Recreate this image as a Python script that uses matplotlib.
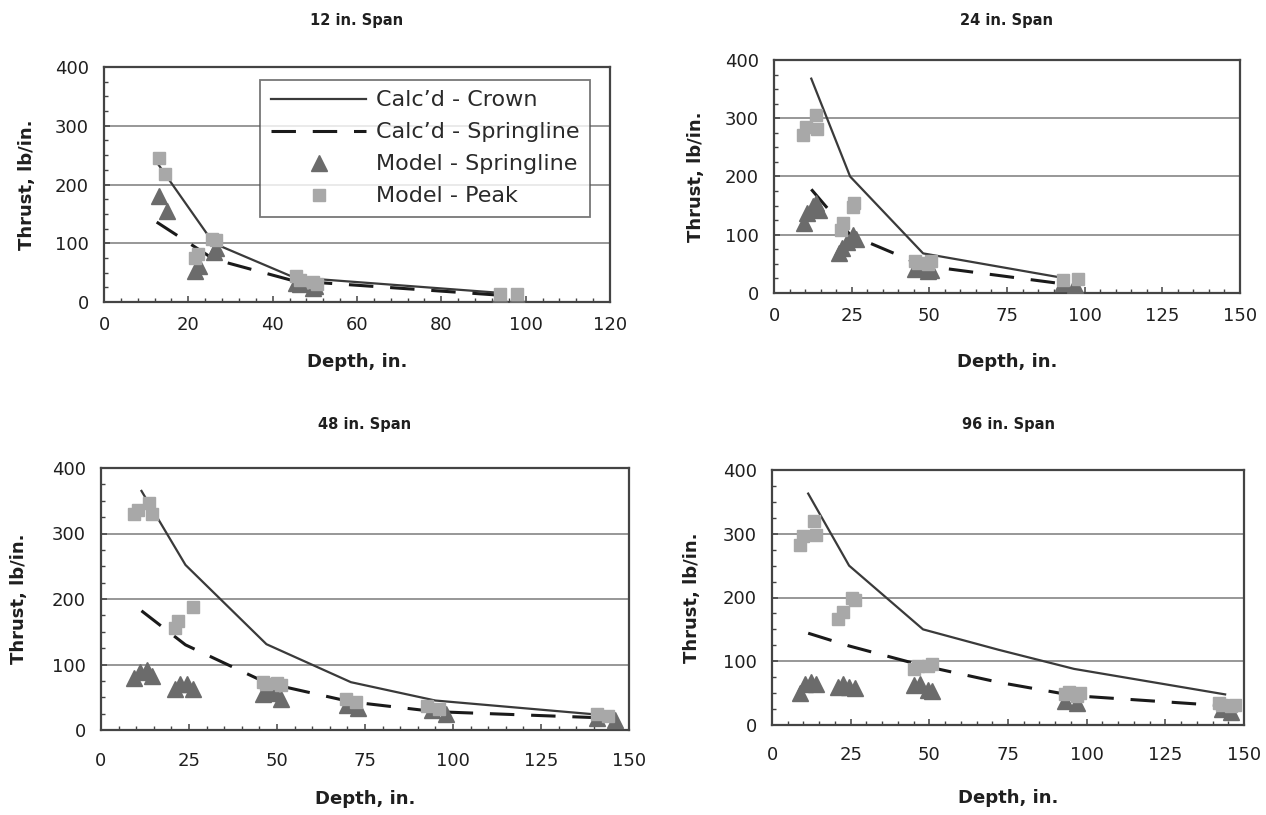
import matplotlib
matplotlib.use("Agg")
import matplotlib.pyplot as plt
from matplotlib.ticker import MultipleLocator

plt.rcParams['font.family'] = ['DejaVu Sans']

# ---------------- data ----------------
titles = ["12 in. Span", "24 in. Span", "48 in. Span", "96 in. Span"]

# Panel 1: 12 in. span
p1_calc_depth = [12.5, 26, 45, 95]
p1_calc_crown = [238, 100, 42, 15]
p1_calc_spring = [136, 73, 36, 11]
p1_model_spring_depth = [13, 15, 21.5, 22.5, 26, 26.5, 45.5, 46.5, 49.5, 50, 94, 98]
p1_model_spring = [180, 155, 52, 62, 85, 92, 32, 30, 23, 27, 10, 10]
p1_model_peak_depth = [13, 14.5, 21.5, 22.3, 25.5, 26.5, 45.5, 46.5, 49.5, 50.5, 94, 98]
p1_model_peak = [245, 218, 75, 82, 108, 105, 45, 38, 34, 30, 14, 14]

# Panel 2: 24 in. span
p2_calc_depth = [12, 24.5, 48, 94]
p2_calc_crown = [368, 200, 68, 25]
p2_calc_spring = [178, 100, 47, 15]
p2_model_spring_depth = [9.5, 10.5, 12.5, 13.5, 14.5, 21, 22, 23.5, 25.5, 26.5,
                         45.5, 46.5, 49.5, 50.5, 93, 97]
p2_model_spring = [120, 138, 150, 155, 143, 68, 78, 88, 100, 92,
                   42, 45, 38, 40, 17, 14]
p2_model_peak_depth = [9.3, 10.2, 13.6, 13.8, 21.5, 22.2, 25.5, 25.7,
                       45.3, 46.5, 49.6, 50.5, 93, 98]
p2_model_peak = [271, 285, 305, 282, 108, 120, 147, 155,
                 55, 52, 49, 55, 23, 24]

# Panel 3: 48 in. span
p3_calc_depth = [11.5, 24, 47, 71, 95, 140]
p3_calc_crown = [365, 252, 131, 73, 45, 24]
p3_calc_spring = [182, 130, 72, 43, 28, 19]
p3_model_spring_depth = [9.5, 11, 13, 14.5, 21, 22.5, 24.5, 26,
                         46, 47.5, 49.5, 51, 70, 73, 94, 98, 141, 146]
p3_model_spring = [80, 88, 92, 82, 63, 70, 70, 63,
                   55, 62, 56, 48, 38, 33, 30, 25, 18, 15]
p3_model_peak_depth = [9.5, 10.5, 13.5, 14.5, 21, 22, 26,
                       46, 47, 50, 51, 69.5, 72.5, 92.5, 96, 141, 144]
p3_model_peak = [330, 336, 346, 330, 155, 167, 188,
                 73, 70, 72, 68, 47, 42, 36, 32, 25, 21]

# Panel 4: 96 in. span
p4_calc_depth = [11.5, 24.5, 48, 72, 96, 144]
p4_calc_crown = [363, 250, 150, 118, 88, 48]
p4_calc_spring = [144, 124, 93, 67, 46, 30]
p4_model_spring_depth = [9, 10.5, 12.5, 14, 21, 22.5, 24.5, 26.5,
                         45, 47, 49.5, 51, 93, 97, 143, 146]
p4_model_spring = [50, 64, 68, 65, 60, 65, 60, 58,
                   62, 65, 55, 53, 38, 35, 25, 20]
p4_model_peak_depth = [9, 10, 13.5, 14, 21, 22.5, 25.5, 26.5,
                       45, 46.5, 49.5, 51, 93, 94.5, 97, 98, 142, 143, 146, 147]
p4_model_peak = [282, 297, 320, 298, 166, 178, 200, 196,
                 88, 92, 93, 95, 48, 52, 46, 50, 35, 32, 30, 32]

x_max = [120, 150, 150, 150]
x_major = [20, 25, 25, 25]
x_minor = [4, 5, 5, 5]

panels = [
    (p1_calc_depth, p1_calc_crown, p1_calc_spring, p1_model_spring_depth, p1_model_spring, p1_model_peak_depth, p1_model_peak),
    (p2_calc_depth, p2_calc_crown, p2_calc_spring, p2_model_spring_depth, p2_model_spring, p2_model_peak_depth, p2_model_peak),
    (p3_calc_depth, p3_calc_crown, p3_calc_spring, p3_model_spring_depth, p3_model_spring, p3_model_peak_depth, p3_model_peak),
    (p4_calc_depth, p4_calc_crown, p4_calc_spring, p4_model_spring_depth, p4_model_spring, p4_model_peak_depth, p4_model_peak),
]

# ---------------- layout ----------------
W, H = 1266, 815
fig = plt.figure(figsize=(W / 100, H / 100), dpi=100)
fig.patch.set_facecolor('white')

# pixel boxes: left, top, right, bottom
boxes = [(104, 67, 610, 302), (774, 60, 1240, 293), (101, 468, 629, 730), (772, 470, 1244, 725)]
title_y = [20, 20, 425, 425]
xlabel_y = [362, 362, 799, 798]
ylabel_x = [27, 696, 19, 692]
xtick_pad = [10, 10, 16, 15]

c_line = '#3a3a3a'
c_tri = '#6b6b6b'
c_sq = '#a8a8a8'
c_frame = '#444444'
c_text = '#1f1f1f'

for i, (ax_box, data) in enumerate(zip(boxes, panels)):
    l, t, r, b = ax_box
    ax = fig.add_axes([l / W, 1 - b / H, (r - l) / W, (b - t) / H])
    cd, cc, cs, msd, ms, mpd, mp = data

    ax.plot(cd, cc, color=c_line, lw=1.6, label="Calc\u2019d - Crown", zorder=3)
    ax.plot(cd, cs, color='#1a1a1a', lw=2.2, dashes=(8, 5.5), label="Calc\u2019d - Springline", zorder=3)
    ax.plot(msd, ms, linestyle='none', marker='^', ms=11, color=c_tri, mec=c_tri,
            label="Model - Springline", zorder=4)
    ax.plot(mpd, mp, linestyle='none', marker='s', ms=8, color=c_sq, mec=c_sq,
            label="Model - Peak", zorder=5)

    ax.set_xlim(0, x_max[i])
    ax.set_ylim(0, 400)
    ax.xaxis.set_major_locator(MultipleLocator(x_major[i]))
    ax.xaxis.set_minor_locator(MultipleLocator(x_minor[i]))
    ax.yaxis.set_major_locator(MultipleLocator(100))
    ax.yaxis.set_minor_locator(MultipleLocator(25))
    ax.grid(axis='y', which='major', color='#8f8f8f', lw=1.3)
    ax.set_axisbelow(True)
    for s in ax.spines.values():
        s.set_color(c_frame)
        s.set_linewidth(1.6)
    ax.tick_params(which='both', direction='in', color=c_frame, labelsize=13,
                   labelcolor=c_text)
    ax.tick_params(which='major', length=4, width=1.1)
    ax.tick_params(which='minor', length=3, width=1.0)
    ax.tick_params(axis='x', which='major', pad=xtick_pad[i])
    ax.tick_params(axis='y', which='major', pad=11)

    fig.text(((l + r) / 2) / W, 1 - xlabel_y[i] / H, "Depth, in.", ha='center', va='center',
             fontsize=13, fontweight='bold', color=c_text)
    fig.text(ylabel_x[i] / W, 1 - ((t + b) / 2) / H, "Thrust, lb/in.", ha='center', va='center',
             rotation=90, fontsize=13, fontweight='bold', color=c_text)
    fig.text(((l + r) / 2) / W, 1 - title_y[i] / H, titles[i], ha='center', va='center',
             fontsize=10.5, fontweight='bold', color=c_text)

    if i == 0:
        leg = ax.legend(loc='upper left', bbox_to_anchor=(0.309, 0.945), borderaxespad=0,
                        fontsize=16, frameon=True, fancybox=False, edgecolor='#555555',
                        handlelength=4.3, borderpad=0.47, labelspacing=0.54,
                        handletextpad=0.45)
        leg.get_frame().set_linewidth(1.3)
        for txt in leg.get_texts():
            txt.set_color('#2a2a2a')

fig.savefig("out.png", dpi=100, facecolor='white')
